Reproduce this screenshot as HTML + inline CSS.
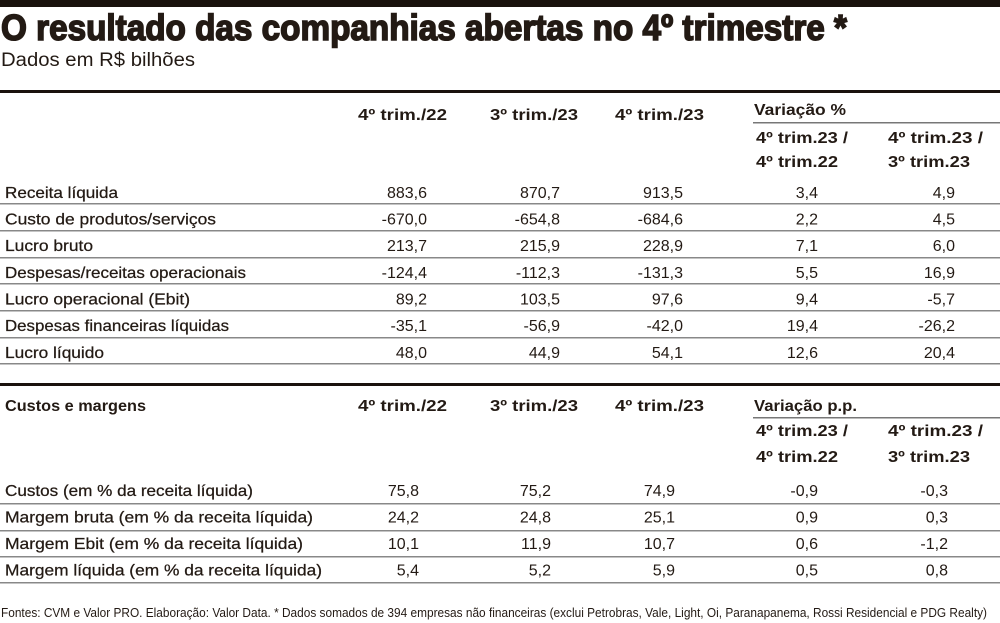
<!DOCTYPE html>
<html><head><meta charset="utf-8"><style>
html,body{margin:0;padding:0;background:#fff;}
svg{display:block;}
text{font-family:"Liberation Sans",sans-serif;fill:#231a14;}
.b{font-weight:bold;}
.l{font-size:16px;stroke:#231a14;stroke-width:0.25;}
.v{font-size:16px;text-anchor:end;}
.h{font-size:16px;font-weight:bold;}
</style></head><body>
<svg width="1000" height="623" viewBox="0 0 1000 623" xmlns="http://www.w3.org/2000/svg">
<rect x="0" y="0" width="1000" height="7" fill="#1a120d"/>
<text x="1" y="40" class="b" style="font-size:36px;font-weight:900;stroke:#231a14;stroke-width:1.6" textLength="846" lengthAdjust="spacingAndGlyphs">O resultado das companhias abertas no 4º trimestre *</text>
<text x="1" y="66" style="font-size:19px" textLength="194" lengthAdjust="spacingAndGlyphs">Dados em R$ bilhões</text>
<rect x="0" y="90" width="1000" height="3" fill="#1a120d"/>

<g class="h">
<text x="358" y="120" class="h" textLength="89" lengthAdjust="spacingAndGlyphs">4º trim./22</text>
<text x="490" y="120" class="h" textLength="88" lengthAdjust="spacingAndGlyphs">3º trim./23</text>
<text x="615" y="120" class="h" textLength="89" lengthAdjust="spacingAndGlyphs">4º trim./23</text>
<text x="754" y="115" class="h" textLength="92" lengthAdjust="spacingAndGlyphs">Variação %</text>
<text x="756" y="143" class="h" textLength="92" lengthAdjust="spacingAndGlyphs">4º trim.23 /</text>
<text x="756" y="167" class="h" textLength="82" lengthAdjust="spacingAndGlyphs">4º trim.22</text>
<text x="888" y="143" class="h" textLength="95" lengthAdjust="spacingAndGlyphs">4º trim.23 /</text>
<text x="888" y="167" class="h" textLength="82" lengthAdjust="spacingAndGlyphs">3º trim.23</text>
</g>
<rect x="753" y="122" width="247" height="1.5" fill="#777"/>

<g fill="#888">
<rect x="0" y="203" width="1000" height="1.5"/>
<rect x="0" y="230" width="1000" height="1.5"/>
<rect x="0" y="257" width="1000" height="1.5"/>
<rect x="0" y="283" width="1000" height="1.5"/>
<rect x="0" y="310" width="1000" height="1.5"/>
<rect x="0" y="337" width="1000" height="1.5"/>
<rect x="0" y="363" width="1000" height="1.5"/>
</g>

<text x="5" y="198" class="l" textLength="113" lengthAdjust="spacingAndGlyphs">Receita líquida</text>
<text x="5" y="224.5" class="l" textLength="211" lengthAdjust="spacingAndGlyphs">Custo de produtos/serviços</text>
<text x="5" y="251" class="l" textLength="88" lengthAdjust="spacingAndGlyphs">Lucro bruto</text>
<text x="5" y="278" class="l" textLength="241" lengthAdjust="spacingAndGlyphs">Despesas/receitas operacionais</text>
<text x="5" y="304.5" class="l" textLength="185" lengthAdjust="spacingAndGlyphs">Lucro operacional (Ebit)</text>
<text x="5" y="331" class="l" textLength="224" lengthAdjust="spacingAndGlyphs">Despesas financeiras líquidas</text>
<text x="5" y="358" class="l" textLength="99" lengthAdjust="spacingAndGlyphs">Lucro líquido</text>

<g>
<text x="427" y="198" class="v">883,6</text><text x="560" y="198" class="v">870,7</text><text x="683" y="198" class="v">913,5</text><text x="818" y="198" class="v">3,4</text><text x="955" y="198" class="v">4,9</text>
<text x="427" y="224.5" class="v">-670,0</text><text x="560" y="224.5" class="v">-654,8</text><text x="683" y="224.5" class="v">-684,6</text><text x="818" y="224.5" class="v">2,2</text><text x="955" y="224.5" class="v">4,5</text>
<text x="427" y="251" class="v">213,7</text><text x="560" y="251" class="v">215,9</text><text x="683" y="251" class="v">228,9</text><text x="818" y="251" class="v">7,1</text><text x="955" y="251" class="v">6,0</text>
<text x="427" y="278" class="v">-124,4</text><text x="560" y="278" class="v">-112,3</text><text x="683" y="278" class="v">-131,3</text><text x="818" y="278" class="v">5,5</text><text x="955" y="278" class="v">16,9</text>
<text x="427" y="304.5" class="v">89,2</text><text x="560" y="304.5" class="v">103,5</text><text x="683" y="304.5" class="v">97,6</text><text x="818" y="304.5" class="v">9,4</text><text x="955" y="304.5" class="v">-5,7</text>
<text x="427" y="331" class="v">-35,1</text><text x="560" y="331" class="v">-56,9</text><text x="683" y="331" class="v">-42,0</text><text x="818" y="331" class="v">19,4</text><text x="955" y="331" class="v">-26,2</text>
<text x="427" y="358" class="v">48,0</text><text x="560" y="358" class="v">44,9</text><text x="683" y="358" class="v">54,1</text><text x="818" y="358" class="v">12,6</text><text x="955" y="358" class="v">20,4</text>
</g>

<rect x="0" y="383" width="1000" height="3" fill="#1a120d"/>
<text x="5" y="411" class="h" textLength="141" lengthAdjust="spacingAndGlyphs">Custos e margens</text>
<text x="358" y="411" class="h" textLength="89" lengthAdjust="spacingAndGlyphs">4º trim./22</text>
<text x="490" y="411" class="h" textLength="88" lengthAdjust="spacingAndGlyphs">3º trim./23</text>
<text x="615" y="411" class="h" textLength="89" lengthAdjust="spacingAndGlyphs">4º trim./23</text>
<text x="754" y="411" class="h" textLength="103" lengthAdjust="spacingAndGlyphs">Variação p.p.</text>
<rect x="753" y="417" width="247" height="1.5" fill="#777"/>
<text x="756" y="436" class="h" textLength="92" lengthAdjust="spacingAndGlyphs">4º trim.23 /</text>
<text x="756" y="462" class="h" textLength="82" lengthAdjust="spacingAndGlyphs">4º trim.22</text>
<text x="888" y="436" class="h" textLength="95" lengthAdjust="spacingAndGlyphs">4º trim.23 /</text>
<text x="888" y="462" class="h" textLength="82" lengthAdjust="spacingAndGlyphs">3º trim.23</text>

<g fill="#888">
<rect x="0" y="503" width="1000" height="1.5"/>
<rect x="0" y="530" width="1000" height="1.5"/>
<rect x="0" y="556" width="1000" height="1.5"/>
<rect x="0" y="582" width="1000" height="1.5"/>
</g>

<text x="5" y="496" class="l" textLength="248" lengthAdjust="spacingAndGlyphs">Custos (em % da receita líquida)</text>
<text x="5" y="522.5" class="l" textLength="308" lengthAdjust="spacingAndGlyphs">Margem bruta (em % da receita líquida)</text>
<text x="5" y="549" class="l" textLength="298" lengthAdjust="spacingAndGlyphs">Margem Ebit (em % da receita líquida)</text>
<text x="5" y="575.5" class="l" textLength="317" lengthAdjust="spacingAndGlyphs">Margem líquida (em % da receita líquida)</text>

<text x="419" y="496" class="v">75,8</text><text x="551" y="496" class="v">75,2</text><text x="675" y="496" class="v">74,9</text><text x="818" y="496" class="v">-0,9</text><text x="948" y="496" class="v">-0,3</text>
<text x="419" y="522.5" class="v">24,2</text><text x="551" y="522.5" class="v">24,8</text><text x="675" y="522.5" class="v">25,1</text><text x="818" y="522.5" class="v">0,9</text><text x="948" y="522.5" class="v">0,3</text>
<text x="419" y="549" class="v">10,1</text><text x="551" y="549" class="v">11,9</text><text x="675" y="549" class="v">10,7</text><text x="818" y="549" class="v">0,6</text><text x="948" y="549" class="v">-1,2</text>
<text x="419" y="575.5" class="v">5,4</text><text x="551" y="575.5" class="v">5,2</text><text x="675" y="575.5" class="v">5,9</text><text x="818" y="575.5" class="v">0,5</text><text x="948" y="575.5" class="v">0,8</text>

<text x="1" y="617" style="font-size:12.5px" textLength="986" lengthAdjust="spacingAndGlyphs">Fontes: CVM e Valor PRO. Elaboração: Valor Data. * Dados somados de 394 empresas não financeiras (exclui Petrobras, Vale, Light, Oi, Paranapanema, Rossi Residencial e PDG Realty)</text>
</svg>
</body></html>
